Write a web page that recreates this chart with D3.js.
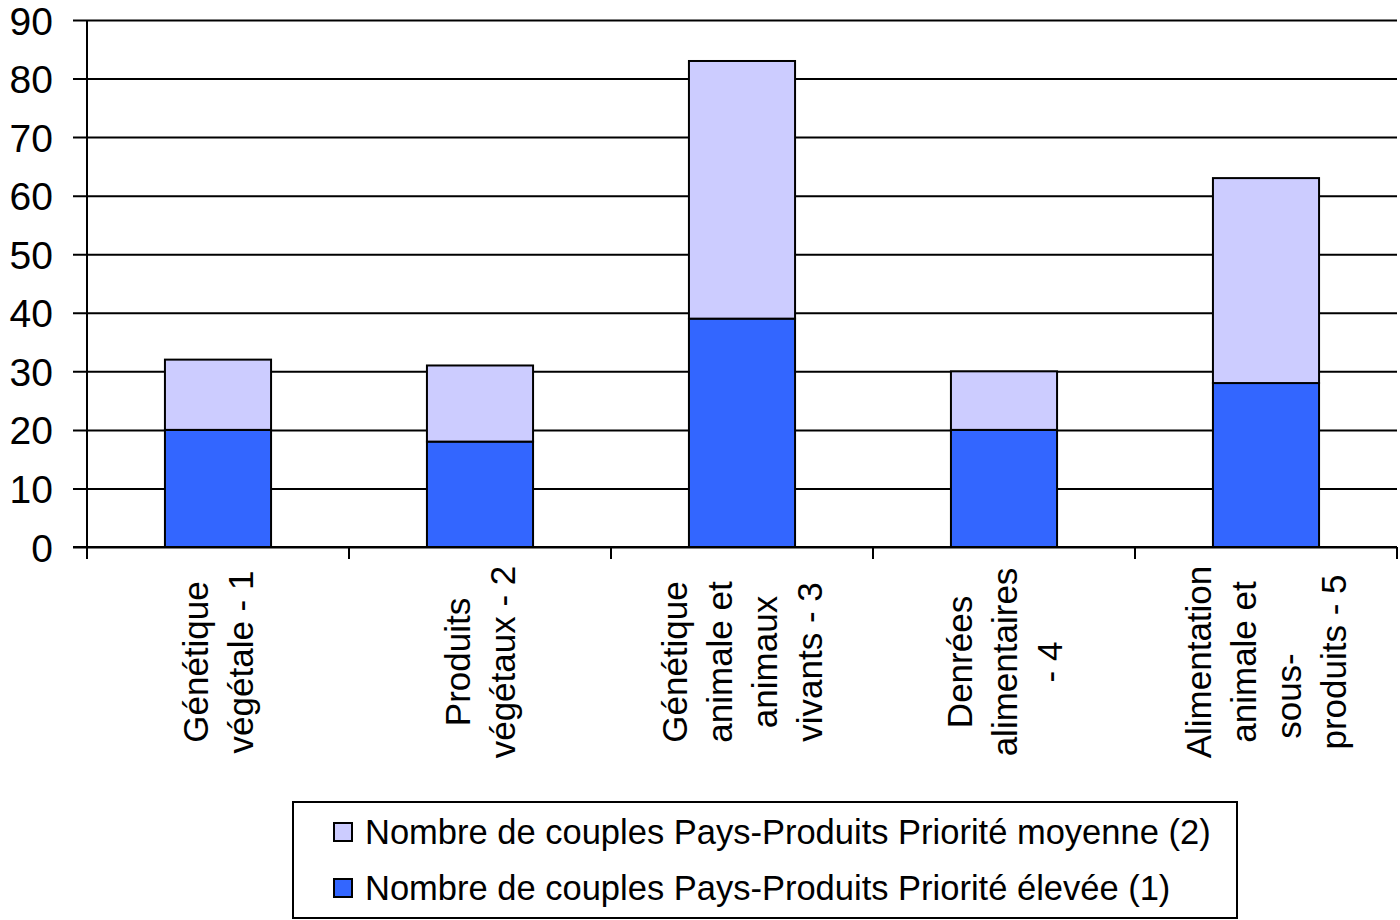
<!DOCTYPE html>
<html>
<head>
<meta charset="utf-8">
<script src="https://cdn.jsdelivr.net/npm/d3@7"></script>
<style>
  body { margin: 0; background: #fff; }
  text { font-family: "Liberation Sans", Arial, sans-serif; fill: #000; }
</style>
</head>
<body>
<div id="chart"></div>
<script>
// data
var categories = ["Génétique végétale - 1", "Produits végétaux - 2", "Génétique animale et animaux vivants - 3", "Denrées alimentaires - 4", "Alimentation animale et sous-produits - 5"];
var labelLines = [
  ["Génétique", "végétale - 1"],
  ["Produits", "végétaux - 2"],
  ["Génétique", "animale et", "animaux", "vivants - 3"],
  ["Denrées", "alimentaires", "- 4"],
  ["Alimentation", "animale et", "sous-\u00a0\u00a0\u00a0\u00a0\u00a0\u00a0\u00a0", "produits - 5"]
];
var prioriteElevee = [20, 18, 39, 20, 28];
var prioriteMoyenne = [12, 13, 44, 10, 35];
var seriesNames = ["Nombre de couples Pays-Produits Priorité moyenne (2)", "Nombre de couples Pays-Produits Priorité élevée (1)"];
var yTicks = [0, 10, 20, 30, 40, 50, 60, 70, 80, 90];

var width = 1400, height = 920;
var plot = { left: 87, right: 1397, top: 20, bottom: 547 };
var colors = { high: "#3366FF", mid: "#CCCCFF" };

var svg = d3.select("#chart").append("svg")
    .attr("width", width)
    .attr("height", height);

svg.append("rect").attr("width", width).attr("height", height).attr("fill", "#fff");

var x = d3.scaleBand()
    .domain(categories)
    .range([plot.left, plot.right])
    .paddingInner(0.595)
    .paddingOuter(0.2975);

var y = d3.scaleLinear()
    .domain([0, 90])
    .range([plot.bottom, plot.top]);

// gridlines + y labels
var gridW = plot.right - plot.left + 14;
var yAxis = d3.axisLeft(y)
    .tickValues(yTicks)
    .tickSize(0)
    .tickFormat(d3.format("d"));

var gy = svg.append("g")
    .attr("transform", "translate(" + plot.right + ",0)")
    .call(yAxis);
gy.select(".domain").remove();
gy.selectAll(".tick line")
    .attr("x1", -gridW)
    .attr("x2", 0)
    .attr("stroke", "#000")
    .attr("stroke-width", 2);
gy.selectAll(".tick text")
    .attr("x", -gridW - 20)
    .attr("dy", "0.36em")
    .attr("text-anchor", "end")
    .style("font-size", "39px")
    .style("font-family", "'Liberation Sans', Arial, sans-serif")
    .attr("fill", "#000");

// stacked bars
var stackData = categories.map(function(c, i) {
  return { cat: c, high: prioriteElevee[i], mid: prioriteMoyenne[i] };
});
var stack = d3.stack().keys(["high", "mid"])(stackData);

svg.append("g")
  .selectAll("g")
  .data(stack)
  .enter().append("g")
    .attr("fill", function(d) { return colors[d.key]; })
  .selectAll("rect")
  .data(function(d) { return d; })
  .enter().append("rect")
    .attr("x", function(d) { return x(d.data.cat); })
    .attr("y", function(d) { return y(d[1]); })
    .attr("width", x.bandwidth())
    .attr("height", function(d) { return y(d[0]) - y(d[1]); })
    .attr("stroke", "#000")
    .attr("stroke-width", 2);

// axis lines
var halfGap = (x.step() - x.bandwidth()) / 2;
svg.append("line")
    .attr("x1", plot.left).attr("x2", plot.left)
    .attr("y1", plot.top).attr("y2", plot.bottom + 12)
    .attr("stroke", "#000").attr("stroke-width", 2);
svg.append("line")
    .attr("x1", plot.left - 14).attr("x2", plot.right)
    .attr("y1", plot.bottom).attr("y2", plot.bottom)
    .attr("stroke", "#000").attr("stroke-width", 2);

var edges = categories.map(function(c) { return x(c) - halfGap; });
edges.push(plot.right);
svg.append("g")
  .selectAll("line")
  .data(edges)
  .enter().append("line")
    .attr("x1", function(d) { return d; })
    .attr("x2", function(d) { return d; })
    .attr("y1", plot.bottom)
    .attr("y2", plot.bottom + 12)
    .attr("stroke", "#000")
    .attr("stroke-width", 2);

// category labels, rotated
var lineStep = 45;
var labels = svg.append("g")
  .selectAll("g")
  .data(categories)
  .enter().append("g")
    .attr("transform", function(d) {
      var cx = x(d) + x.bandwidth() / 2;
      return "translate(" + cx + ",662) rotate(-90)";
    });

labels.selectAll("text")
  .data(function(d, i) {
    var lines = labelLines[i];
    return lines.map(function(t, j) { return { t: t, off: (j - (lines.length - 1) / 2) * lineStep }; });
  })
  .enter().append("text")
    .attr("x", 0)
    .attr("y", function(d) { return d.off; })
    .attr("dy", "0.36em")
    .attr("text-anchor", "middle")
    .style("font-size", "35px")
    .style("white-space", "pre")
    .text(function(d) { return d.t; });

// legend
var legend = svg.append("g");
legend.append("rect")
    .attr("x", 293).attr("y", 802)
    .attr("width", 944).attr("height", 116)
    .attr("fill", "#fff")
    .attr("stroke", "#000")
    .attr("stroke-width", 2);

var legendColors = [colors.mid, colors.high];
var rows = legend.selectAll("g.row")
  .data(seriesNames)
  .enter().append("g")
    .attr("class", "row")
    .attr("transform", function(d, i) { return "translate(334," + (832 + i * 56) + ")"; });

rows.append("rect")
    .attr("x", 0).attr("y", -9)
    .attr("width", 18).attr("height", 18)
    .attr("fill", function(d, i) { return legendColors[i]; })
    .attr("stroke", "#000")
    .attr("stroke-width", 2);

rows.append("text")
    .attr("x", 31)
    .attr("dy", "0.36em")
    .style("font-size", "34.5px")
    .text(function(d) { return d; });
</script>
</body>
</html>
